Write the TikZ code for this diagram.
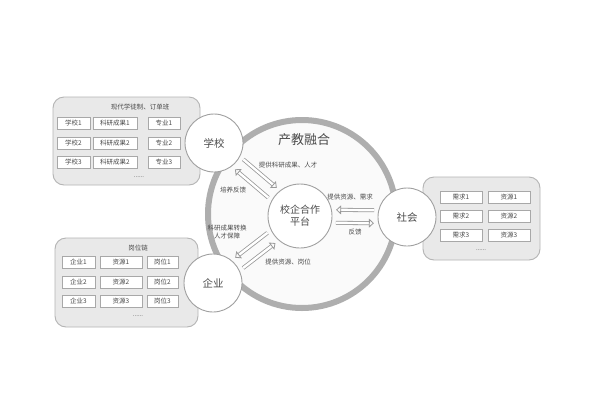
\documentclass[tikz,border=0pt]{standalone}
\usepackage{fontspec}
\setmainfont{Noto Sans CJK SC}
\usetikzlibrary{calc,arrows.meta}
\definecolor{txt}{HTML}{4A4A4A}
\definecolor{ringc}{HTML}{AEAEAE}
\definecolor{boxf}{HTML}{E9E9E9}
\definecolor{boxd}{HTML}{B4B4B4}
\definecolor{celld}{HTML}{A8A8A8}
\definecolor{circd}{HTML}{A0A0A0}
\tikzset{
  outerbox/.style={draw=boxd, fill=boxf, line width=0.9pt, rounded corners=11pt, inner sep=0pt},
  cell/.style={draw=celld, fill=white, line width=0.6pt, inner sep=0pt, minimum height=12pt, font=\fontsize{6.5}{7}\selectfont, text=txt},
  hdr/.style={font=\fontsize{6.5}{7}\selectfont, text=txt, inner sep=0pt},
  dots/.style={font=\fontsize{6}{6}\selectfont, text=txt, inner sep=0pt},
  actor/.style={circle, draw=circd, fill=white, line width=0.9pt, minimum size=58pt, inner sep=0pt, font=\fontsize{10.5}{12}\selectfont, text=txt},
  ringstyle/.style={circle, draw=ringc, fill=white!96!gray, line width=6pt, minimum size=188pt, inner sep=0pt},
  lbl/.style={font=\fontsize{6.5}{8}\selectfont, text=txt, inner sep=0pt, align=center},
  dblarrow/.style={draw=gray!80, double=white, double distance=2.4pt, line width=0.8pt, -{Triangle[open, length=5pt, width=9pt]}},
}
\begin{document}
\begin{tikzpicture}[x=1pt,y=-1pt]
\useasboundingbox (0,0) rectangle (600,400);
\fill[white] (0,0) rectangle (600,400);

% big ring
\node[ringstyle] (ring) at (302,214) {};
\node[font=\fontsize{13}{14}\selectfont, text=txt] (title) at (304,140) {产教融合};

% outer boxes
\node[outerbox, minimum width=147pt, minimum height=88pt] (boxS) at (126.5,141) {};
\node[outerbox, minimum width=143pt, minimum height=89pt] (boxE) at (126.5,282.5) {};
\node[outerbox, minimum width=117pt, minimum height=83pt] (boxC) at (481.5,218.5) {};

% school box contents
\node[hdr] (hS) at (140,107) {现代学徒制、订单班};
\node[cell, minimum width=33pt] (s11) at (73.5,123) {学校1};
\node[cell, minimum width=44pt] (s12) at (115,123) {科研成果1};
\node[cell, minimum width=32pt] (s13) at (164,123) {专业1};
\node[cell, minimum width=33pt] (s21) at (73.5,143) {学校2};
\node[cell, minimum width=44pt] (s22) at (115,143) {科研成果2};
\node[cell, minimum width=32pt] (s23) at (164,143) {专业2};
\node[cell, minimum width=33pt] (s31) at (73.5,162) {学校3};
\node[cell, minimum width=44pt] (s32) at (115,162) {科研成果2};
\node[cell, minimum width=32pt] (s33) at (164,162) {专业3};
\node[dots] (dS) at (139,177) {......};

% enterprise box contents
\node[hdr] (hE) at (138,248) {岗位链};
\node[cell, minimum width=33pt] (e11) at (78.5,262) {企业1};
\node[cell, minimum width=42pt] (e12) at (121,262) {资源1};
\node[cell, minimum width=31pt] (e13) at (162.5,262) {岗位1};
\node[cell, minimum width=33pt] (e21) at (78.5,282) {企业2};
\node[cell, minimum width=42pt] (e22) at (121,282) {资源2};
\node[cell, minimum width=31pt] (e23) at (162.5,282) {岗位2};
\node[cell, minimum width=33pt] (e31) at (78.5,301) {企业3};
\node[cell, minimum width=42pt] (e32) at (121,301) {资源3};
\node[cell, minimum width=31pt] (e33) at (162.5,301) {岗位3};
\node[dots] (dE) at (138,316) {......};

% society box contents
\node[cell, minimum width=42pt] (c11) at (461,197) {需求1};
\node[cell, minimum width=42pt] (c12) at (509,197) {资源1};
\node[cell, minimum width=42pt] (c21) at (461,216) {需求2};
\node[cell, minimum width=42pt] (c22) at (509,216) {资源2};
\node[cell, minimum width=42pt] (c31) at (461,235) {需求3};
\node[cell, minimum width=42pt] (c32) at (509,235) {资源3};
\node[dots] (dC) at (481,250) {......};

% actors
\node[actor] (S) at (214,143) {学校};
\node[actor] (E) at (213,283) {企业};
\node[actor] (C) at (407,217) {社会};
\node[actor, minimum size=64pt, align=center, font=\fontsize{10}{12}\selectfont] (P) at (300,216) {校企合作\\平台};

% arrows school <-> platform
\draw[dblarrow] ($(S.center)!33pt!(P.center) + (S.center)!6.5pt!90:(P.center) - (S.center)$)
  -- ($(P.center)!36pt!(S.center) + (S.center)!6.5pt!90:(P.center) - (S.center)$);
\draw[dblarrow] ($(P.center)!36pt!(S.center) + (S.center)!6.5pt!-90:(P.center) - (S.center)$)
  -- ($(S.center)!33pt!(P.center) + (S.center)!6.5pt!-90:(P.center) - (S.center)$);

% arrows enterprise <-> platform
\draw[dblarrow] ($(P.center)!36pt!(E.center) + (E.center)!6.5pt!90:(P.center) - (E.center)$)
  -- ($(E.center)!33pt!(P.center) + (E.center)!6.5pt!90:(P.center) - (E.center)$);
\draw[dblarrow] ($(E.center)!33pt!(P.center) + (E.center)!6.5pt!-90:(P.center) - (E.center)$)
  -- ($(P.center)!36pt!(E.center) + (E.center)!6.5pt!-90:(P.center) - (E.center)$);

% arrows society <-> platform
\draw[dblarrow] ($(C.center)!33pt!(P.center) + (C.center)!6.5pt!-90:(P.center) - (C.center)$)
  -- ($(P.center)!36pt!(C.center) + (C.center)!6.5pt!-90:(P.center) - (C.center)$);
\draw[dblarrow] ($(P.center)!36pt!(C.center) + (C.center)!6.5pt!90:(P.center) - (C.center)$)
  -- ($(C.center)!33pt!(P.center) + (C.center)!6.5pt!90:(P.center) - (C.center)$);

% labels
\node[lbl] (l1) at (288,165) {提供科研成果、人才};
\node[lbl] (l2) at (233,190) {培养反馈};
\node[lbl] (l3) at (227,232) {科研成果转换\\人才保障};
\node[lbl] (l4) at (288,262) {提供资源、岗位};
\node[lbl] (l5) at (350,197) {提供资源、需求};
\node[lbl] (l6) at (355,232) {反馈};
\end{tikzpicture}
\end{document}
